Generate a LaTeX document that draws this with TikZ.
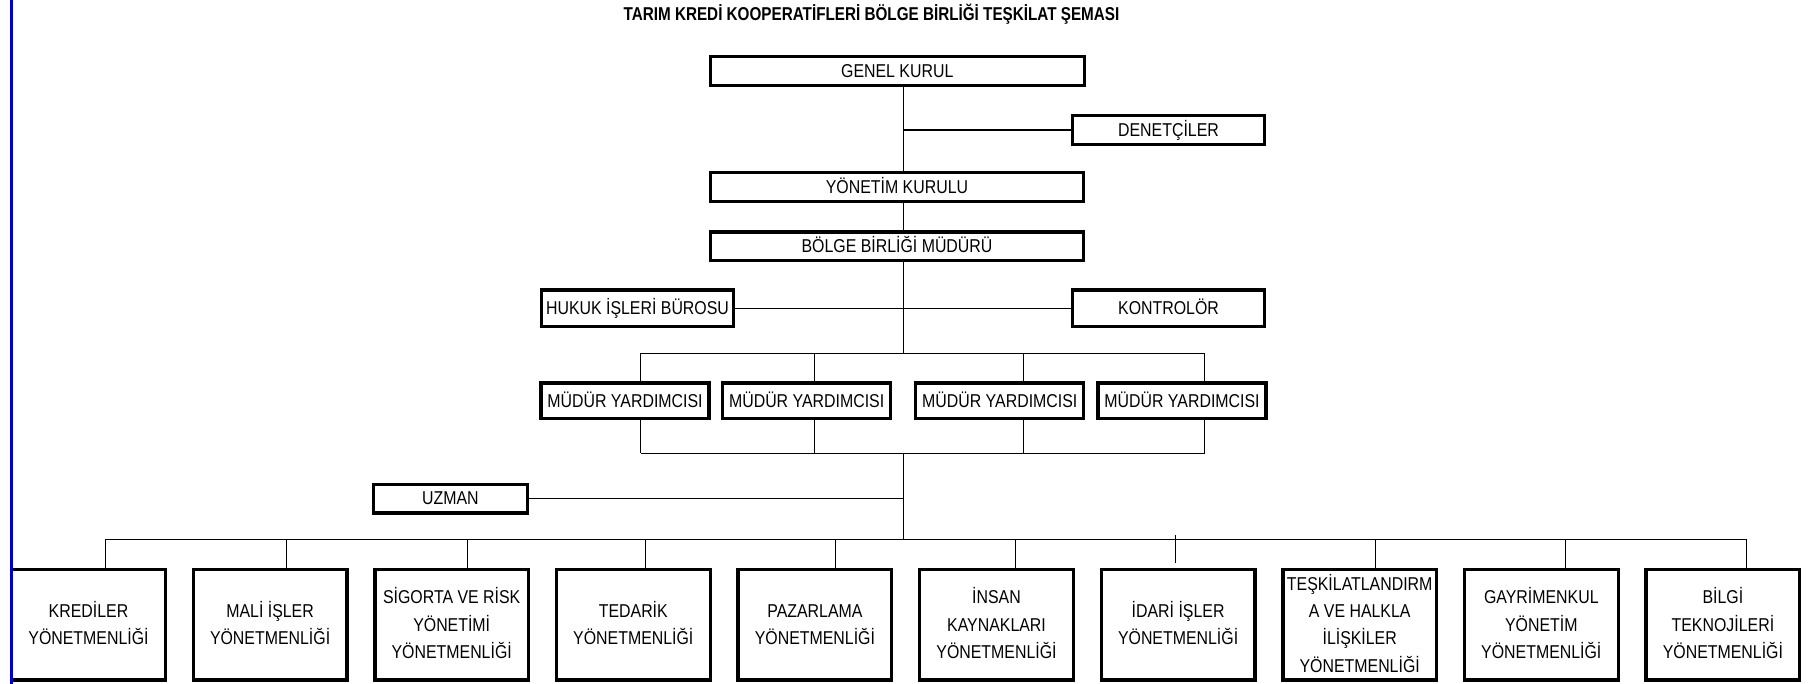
\documentclass[tikz,border=0pt]{standalone}
\usepackage{fontspec}
\setmainfont{Liberation Sans}[FakeStretch=0.855]
\newfontfamily\titlefont{Liberation Sans}[FakeStretch=0.82]
\newcommand{\mystrut}{\rule[-4.7pt]{0pt}{22pt}}
\definecolor{leftblue}{RGB}{0,0,205}
\begin{document}
\begin{tikzpicture}[x=1pt,y=-1pt,
  box/.style={draw=black, line width=3.3pt, fill=white, inner sep=0pt, align=center,
    font=\fontsize{18.6}{27.3}\selectfont},
  topbox/.style={box, minimum height=28.7pt},
  sidebox/.style={box, minimum width=191.7pt, minimum height=36.7pt},
  mybox/.style={box, minimum width=168pt, minimum height=35.7pt},
  unitbox/.style={box, minimum width=153.7pt, minimum height=110.2pt},
  conn/.style={draw=black, line width=1pt},
  hconn/.style={draw=black, line width=1.3pt},
]
\fill[white] (0,0) rectangle (1816,684);
\useasboundingbox (0,0) rectangle (1816,684);

% title
\node[anchor=base, inner sep=0pt, font=\titlefont\fontsize{18.6}{22}\selectfont\bfseries] (title) at (871.5,20.7)
  {TARIM KREDİ KOOPERATİFLERİ BÖLGE BİRLİĞİ TEŞKİLAT ŞEMASI};

% upper chain
\node[topbox, minimum width=374.2pt] (genel) at (897.25,71) {\mystrut GENEL KURUL};
\node[topbox, minimum width=191.7pt] (denet) at (1168.5,130) {\mystrut DENETÇİLER};
\node[topbox, minimum width=372.7pt] (yonetim) at (897,187) {\mystrut YÖNETİM KURULU};
\node[topbox, minimum width=372.7pt] (bolge) at (897,246.5) {\mystrut BÖLGE BİRLİĞİ MÜDÜRÜ};
\node[sidebox] (hukuk) at (637.5,308.5) {\mystrut HUKUK İŞLERİ BÜROSU};
\node[sidebox] (kontrol) at (1168.5,308.5) {\mystrut KONTROLÖR};

\node[mybox] (my1) at (625,401) {\mystrut MÜDÜR YARDIMCISI};
\node[mybox] (my2) at (806.65,401) {\mystrut MÜDÜR YARDIMCISI};
\node[mybox] (my3) at (999.75,401) {\mystrut MÜDÜR YARDIMCISI};
\node[mybox] (my4) at (1182,401) {\mystrut MÜDÜR YARDIMCISI};

\node[topbox, minimum width=153.9pt] (uzman) at (450.4,498.5) {\mystrut UZMAN};

% bottom units
\node[unitbox] (k1) at (88.5,624.75) {\mystrut KREDİLER\\\mystrut YÖNETMENLİĞİ};
\node[unitbox] (k2) at (270.1,624.75) {\mystrut MALİ İŞLER\\\mystrut YÖNETMENLİĞİ};
\node[unitbox] (k3) at (451.7,624.75) {\mystrut SİGORTA VE RİSK\\\mystrut YÖNETİMİ\\\mystrut YÖNETMENLİĞİ};
\node[unitbox] (k4) at (633.3,624.75) {\mystrut TEDARİK\\\mystrut YÖNETMENLİĞİ};
\node[unitbox] (k5) at (814.9,624.75) {\mystrut PAZARLAMA\\\mystrut YÖNETMENLİĞİ};
\node[unitbox] (k6) at (996.5,624.75) {\mystrut İNSAN\\\mystrut KAYNAKLARI\\\mystrut YÖNETMENLİĞİ};
\node[unitbox] (k7) at (1178.1,624.75) {\mystrut İDARİ İŞLER\\\mystrut YÖNETMENLİĞİ};
\node[unitbox] (k8) at (1359.7,624.75) {\mystrut TEŞKİLATLANDIRM\\\mystrut A VE HALKLA\\\mystrut İLİŞKİLER\\\mystrut YÖNETMENLİĞİ};
\node[unitbox] (k9) at (1541.3,624.75) {\mystrut GAYRİMENKUL\\\mystrut YÖNETİM\\\mystrut YÖNETMENLİĞİ};
\node[unitbox] (k10) at (1722.9,624.75) {\mystrut BİLGİ\\\mystrut TEKNOJİLERİ\\\mystrut YÖNETMENLİĞİ};

% trunk
\coordinate (t) at (903.3,0);
\draw[conn] (genel.south -| t) -- (yonetim.north -| t);
\draw[conn] (yonetim.south -| t) -- (bolge.north -| t);
\draw[hconn] (t |- denet.west) -- (denet.west);
\draw[hconn] (hukuk.east) -- (kontrol.west);

% deputy buses
\coordinate (ub) at (903.3,353.3);
\coordinate (u1) at (640.7,353.3);
\coordinate (u2) at (814.7,353.3);
\coordinate (u3) at (1023,353.3);
\coordinate (u4) at (1204.5,353.3);
\coordinate (lb) at (903.3,453.3);
\coordinate (l1) at (640.7,453.3);
\coordinate (l2) at (814.7,453.3);
\coordinate (l3) at (1023,453.3);
\coordinate (l4) at (1204.5,453.3);
\draw[conn] (bolge.south -| t) -- (ub);
\draw[hconn] (u1) -- (u4);
\draw[hconn] (l1) -- (l4);
\foreach \i in {1,2,3,4}{
  \draw[conn] (u\i) -- (u\i |- my\i.north);
  \draw[conn] (u\i |- my\i.south) -- (l\i);
}

% lower trunk and units bus
\coordinate (bb) at (903.3,539.3);
\draw[conn] (lb) -- (bb);
\draw[hconn] (uzman.east) -- (uzman.east -| t);
\coordinate (bL) at (105.3,539.3);
\coordinate (bR) at (1746.7,539.3);
\draw[hconn] (bL) -- (bR);
\coordinate (d1) at (105.3,539.3);
\coordinate (d2) at (286.7,539.3);
\coordinate (d3) at (467.9,539.3);
\coordinate (d4) at (645.7,539.3);
\coordinate (d5) at (835.7,539.3);
\coordinate (d6) at (1015,539.3);
\coordinate (d8) at (1375,539.3);
\coordinate (d9) at (1565.7,539.3);
\coordinate (d10) at (1746.7,539.3);
\foreach \i in {1,2,3,4,5,6,8,9,10}{
  \draw[conn] (d\i) -- (d\i |- k\i.north);
}
\coordinate (tk) at (1175.7,535);
\coordinate (tkend) at (1175.7,562.7);
\draw[conn] (tk) -- (tkend);

% left blue rule
\coordinate (blT) at (11.3,0);
\coordinate (blB) at (11.3,684);
\draw[leftblue, line width=2.7pt] (blT) -- (blB);
\end{tikzpicture}
\end{document}
